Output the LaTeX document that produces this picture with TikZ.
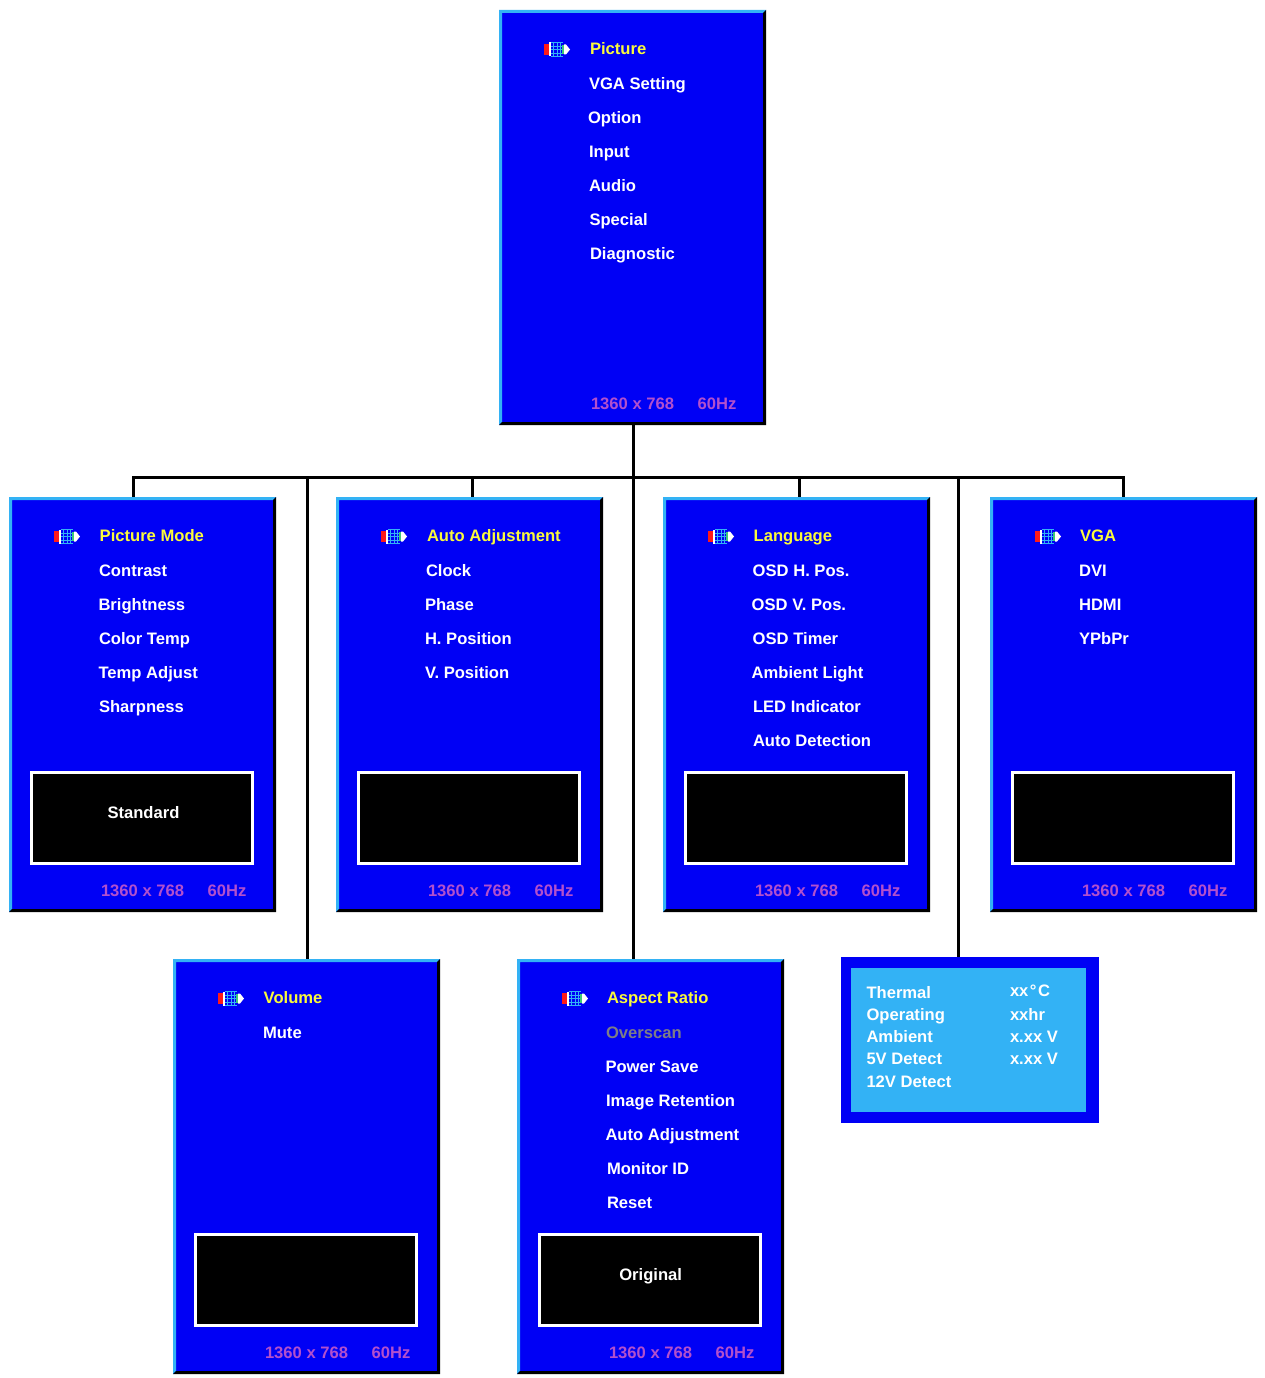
\documentclass[tikz,border=0pt]{standalone}
\usepackage{fontspec}
\setmainfont{Liberation Sans}
\definecolor{osdblue}{RGB}{0,0,245}
\definecolor{osdedge}{RGB}{51,178,245}
\definecolor{osdpink}{RGB}{178,80,205}
\definecolor{osdgray}{RGB}{125,125,135}
\definecolor{osdyellow}{RGB}{250,250,60}
\definecolor{osdgreen}{RGB}{60,200,120}
\newcount\lblcount
\tikzset{
  panelbox/.style={rectangle,fill=osdblue,draw=none,inner sep=0pt,outer sep=0pt,minimum width=267pt,minimum height=415pt,anchor=north west},
  screenbox/.style={rectangle,fill=black,draw=white,line width=2.6pt,inner sep=0pt,outer sep=0pt,minimum width=221.4pt,minimum height=91.4pt,anchor=north west},
  item/.style={anchor=base west,inner sep=0pt,outer sep=0pt,text=white,font=\fontsize{16.6}{18}\selectfont\bfseries},
  head/.style={item,text=osdyellow},
  dim/.style={item,text=osdgray},
  foot/.style={item,text=osdpink},
  link/.style={draw=black,line width=3pt,line cap=butt}
}
% text: style, x, baseline y, text
\newcommand{\lbl}[4]{\global\advance\lblcount by 1
  \node[#1] (t\the\lblcount) at (#2,#3) {#4};}
% panel: name, x, y
\newcommand{\osdpanel}[3]{%
  \node[panelbox] (#1) at (#2,#3) {};
  \fill[osdedge] (#1.north west) -- (#1.north east) -- ([shift={(-3,3)}]#1.north east) -- ([shift={(3,3)}]#1.north west) -- ([shift={(3,-3)}]#1.south west) -- (#1.south west) -- cycle;
  \fill[black] (#1.south east) -- (#1.north east) -- ([shift={(-3,3)}]#1.north east) -- ([shift={(-3,-3)}]#1.south east) -- ([shift={(3,-3)}]#1.south west) -- (#1.south west) -- cycle;
  \begin{scope}[shift={(#2+45,#3+39.5)}]
    \fill[red!90!white] (0,-5.5) rectangle (5,5.5);
    \fill[white] (5,-7) rectangle (6.5,7);
    \fill[osdblue] (6.5,-7) rectangle (19,7);
    \draw[osdedge,line width=.7pt] (7,-7) -- (19,-7) (7,-3.5) -- (19,-3.5) (7,0) -- (19,0) (7,3.5) -- (19,3.5) (7,7) -- (19,7);
    \draw[osdedge,line width=.7pt] (9.5,-7) -- (9.5,7) (13,-7) -- (13,7) (16.5,-7) -- (16.5,7);
    \fill[osdgreen] (18,-4.5) rectangle (20,4.5);
    \fill[white] (20,-5) -- (22,-5) -- (26,0) -- (22,5) -- (20,5) -- cycle;
  \end{scope}
  \lbl{foot}{#2+92}{#3+399}{1360 x 768}
  \lbl{foot}{#2+198.7}{#3+399}{60Hz}
}
\newcommand{\screen}[3]{\node[screenbox] (#1) at (#2+22.3,#3+275.3) {};}
\begin{document}
\begin{tikzpicture}[x=1pt,y=-1pt]
\useasboundingbox[fill=white] (0,0) rectangle (1265,1378);
\osdpanel{main}{499}{10}
\osdpanel{pa}{9}{497}
\osdpanel{pb}{336}{497}
\osdpanel{pc}{663}{497}
\osdpanel{pd}{990}{497}
\osdpanel{pe}{173}{959}
\osdpanel{pf}{517}{959}
\node[rectangle,fill=osdblue,inner sep=0pt,outer sep=0pt,minimum width=258pt,minimum height=166pt,anchor=north west] (diag) at (841,957) {};
\node[rectangle,fill=osdedge,inner sep=0pt,outer sep=0pt,minimum width=235pt,minimum height=144pt,anchor=north west] (diagin) at (851,968) {};
\screen{sa}{9}{497}
\screen{sb}{336}{497}
\screen{sc}{663}{497}
\screen{sd}{990}{497}
\screen{se}{173}{959}
\screen{sf}{517}{959}
% bus
\coordinate (busl) at (133,477.5);
\coordinate (busr) at (1123,477.5);
\coordinate (busm) at (633,477.5);
\coordinate (bus2) at (307,477.5);
\coordinate (bus3) at (472,477.5);
\coordinate (bus5) at (799,477.5);
\coordinate (bus6) at (958,477.5);
\draw[link] (busl |- pa.north) -- (busl) -- (busr) -- (busr |- pd.north);
\draw[link] (busm |- main.south) -- (busm |- pf.north);
\draw[link] (bus2) -- (bus2 |- pe.north);
\draw[link] (bus3) -- (bus3 |- pb.north);
\draw[link] (bus5) -- (bus5 |- pc.north);
\draw[link] (bus6) -- (bus6 |- diag.north);
% main
\lbl{head}{590}{54.6}{Picture}
\lbl{item}{589}{89.6}{VGA Setting}
\lbl{item}{588}{123.6}{Option}
\lbl{item}{589}{157.6}{Input}
\lbl{item}{589}{191}{Audio}
\lbl{item}{589.5}{225}{Special}
\lbl{item}{590}{259}{Diagnostic}
% A
\lbl{head}{99.7}{541}{Picture Mode}
\lbl{item}{99}{576}{Contrast}
\lbl{item}{98.5}{610}{Brightness}
\lbl{item}{99}{644}{Color Temp}
\lbl{item}{98.5}{678}{Temp Adjust}
\lbl{item}{99}{712}{Sharpness}
\lbl{item}{107.5}{818}{Standard}
% B
\lbl{head}{427}{541}{Auto Adjustment}
\lbl{item}{426}{576}{Clock}
\lbl{item}{425}{610}{Phase}
\lbl{item}{425}{644}{H. Position}
\lbl{item}{425}{678}{V. Position}
% C
\lbl{head}{753.7}{541}{Language}
\lbl{item}{752.7}{576}{OSD H. Pos.}
\lbl{item}{751.7}{610}{OSD V. Pos.}
\lbl{item}{752.7}{644}{OSD Timer}
\lbl{item}{751.7}{678}{Ambient Light}
\lbl{item}{753}{712}{LED Indicator}
\lbl{item}{753}{746}{Auto Detection}
% D
\lbl{head}{1080}{541}{VGA}
\lbl{item}{1079}{576}{DVI}
\lbl{item}{1079}{610}{HDMI}
\lbl{item}{1079}{644}{YPbPr}
% E
\lbl{head}{263.7}{1003}{Volume}
\lbl{item}{263}{1038}{Mute}
% F
\lbl{head}{607}{1003}{Aspect Ratio}
\lbl{dim}{606}{1038}{Overscan}
\lbl{item}{605.5}{1072}{Power Save}
\lbl{item}{606}{1106}{Image Retention}
\lbl{item}{605.5}{1140}{Auto Adjustment}
\lbl{item}{607}{1174}{Monitor ID}
\lbl{item}{607}{1208}{Reset}
\lbl{item}{619.3}{1280}{Original}
% diagnostic
\lbl{item}{866.5}{998}{Thermal}
\lbl{item}{866.5}{1020}{Operating}
\lbl{item}{866.5}{1042}{Ambient}
\lbl{item}{866.5}{1064}{5V Detect}
\lbl{item}{866.5}{1087}{12V Detect}
\lbl{item}{1010}{996}{xx\kern1.5pt°\kern1.5pt C}
\lbl{item}{1010}{1020}{xxhr}
\lbl{item}{1010}{1042}{x.xx V}
\lbl{item}{1010}{1064}{x.xx V}
\end{tikzpicture}
\end{document}
